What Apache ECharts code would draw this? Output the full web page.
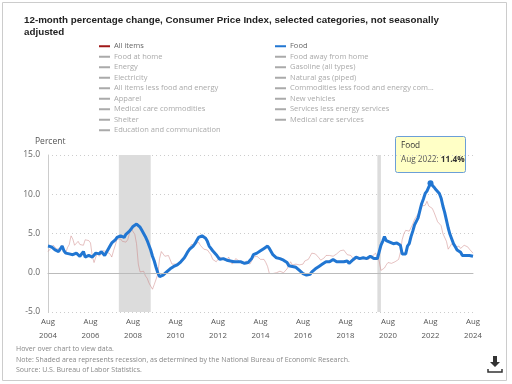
<!DOCTYPE html>
<html>
<head>
<meta charset="utf-8">
<script src="https://cdn.jsdelivr.net/npm/echarts@6/dist/echarts.min.js"></script>
<style>
html,body{margin:0;padding:0;background:#fff;}
#chart{width:512px;height:384px;}
</style>
</head>
<body>
<div id="chart"></div>
<script>
// ---- data ----
const startYear = 2004, startMonth = 8; // Aug 2004
const monthCount = 241;                  // through Aug 2024
const monthNames = ['Jan','Feb','Mar','Apr','May','Jun','Jul','Aug','Sep','Oct','Nov','Dec'];
const categories = [];
for (let i = 0; i < monthCount; i++) {
  const m = (startMonth - 1 + i) % 12;
  const y = startYear + Math.floor((startMonth - 1 + i) / 12);
  categories.push(y + '-' + String(m + 1).padStart(2, '0'));
}

const foodValues = [
  3.4, 3.5, 3.3, 3.1, 2.9,
  2.9, 2.7, 2.8, 3.4, 2.8, 2.5, 2.5, 2.4, 2.3, 2.3, 2.4, 2.5,
  2.3, 2.1, 2.0, 2.7, 2.0, 2.1, 2.2, 2.4, 2.0, 2.1, 2.5, 2.3,
  2.4, 2.7, 2.6, 2.2, 2.6, 3.0, 3.4, 3.8, 4.0, 4.2, 4.5, 4.6,
  4.7, 4.6, 4.5, 4.9, 5.1, 5.3, 5.6, 5.9, 6.1, 6.2, 6.2, 5.8,
  5.4, 5.0, 4.6, 4.1, 3.5, 2.9, 2.1, 1.5, 0.7, 0.0, -0.5, -0.5,
  -0.3, -0.1, 0.1, 0.3, 0.5, 0.7, 0.8, 0.9, 1.0, 1.2, 1.4, 1.6,
  1.9, 2.3, 2.7, 3.0, 3.2, 3.4, 3.7, 4.1, 4.5, 4.7, 4.7, 4.7,
  4.4, 4.0, 3.4, 3.1, 2.8, 2.7, 2.3, 2.0, 1.7, 1.8, 1.8, 1.8,
  1.6, 1.5, 1.5, 1.5, 1.4, 1.4, 1.4, 1.4, 1.4, 1.3, 1.2, 1.1,
  1.3, 1.4, 1.8, 2.3, 2.5, 2.5, 2.4, 2.8, 3.0, 3.1, 3.3, 3.4,
  3.1, 2.9, 2.3, 2.1, 1.9, 1.8, 1.8, 1.6, 1.6, 1.4, 1.3, 0.9,
  0.8, 0.8, 0.6, 0.7, 0.6, 0.3, 0.1, -0.1, -0.2, -0.3, -0.2, -0.2,
  0.1, 0.3, 0.5, 0.6, 0.8, 0.9, 1.1, 1.2, 1.4, 1.3, 1.4, 1.6,
  1.7, 1.5, 1.4, 1.6, 1.4, 1.5, 1.4, 1.4, 1.5, 1.2, 1.4, 1.6,
  1.6, 2.0, 2.1, 1.8, 1.8, 1.9, 1.9, 1.8, 1.8, 2.1, 2.0, 1.8,
  1.8, 1.8, 1.9, 3.5, 4.0, 4.6, 4.1, 4.1, 3.9, 3.9, 3.7, 3.9,
  3.8, 3.6, 3.5, 2.4, 2.2, 2.4, 3.4, 3.7, 4.6, 5.3, 6.1, 6.3,
  7.0, 7.9, 8.8, 9.4, 10.1, 10.4, 10.9, 11.4, 11.2, 10.9, 10.6, 10.4,
  10.1, 9.5, 8.5, 7.7, 6.7, 5.7, 4.9, 4.3, 3.7, 3.3, 2.9, 2.7,
  2.6, 2.2, 2.2, 2.2, 2.1, 2.2, 2.2, 2.1
];

const allItemsValues = [
  2.7, 2.5, 3.2, 3.5, 3.3,
  3.0, 3.0, 3.1, 3.5, 2.8, 2.5, 3.2, 3.6, 4.7, 4.3, 3.5, 3.4,
  4.0, 3.6, 3.4, 3.5, 4.2, 4.3, 4.1, 3.8, 2.1, 1.3, 2.0, 2.5,
  2.1, 2.4, 2.8, 2.6, 2.7, 2.7, 2.4, 2.0, 2.8, 3.5, 4.3, 4.1,
  4.3, 4.0, 4.0, 3.9, 4.2, 5.0, 5.6, 5.4, 4.9, 3.7, 1.1, 0.1,
  0.0, 0.2, -0.4, -0.7, -1.3, -1.4, -2.1, -1.5, -1.3, -0.2, 1.8, 2.7,
  2.6, 2.1, 2.3, 2.2, 2.0, 1.1, 1.2, 1.1, 1.1, 1.2, 1.1, 1.5,
  1.6, 2.1, 2.7, 3.2, 3.6, 3.6, 3.6, 3.8, 3.9, 3.5, 3.4, 3.0,
  2.9, 2.9, 2.7, 2.3, 1.7, 1.7, 1.4, 1.7, 2.0, 2.2, 1.8, 1.7,
  1.6, 2.0, 1.5, 1.1, 1.4, 1.8, 2.0, 1.5, 1.2, 1.0, 1.2, 1.5,
  1.6, 1.1, 1.5, 2.0, 2.1, 2.1, 2.0, 1.7, 1.7, 1.7, 1.3, 0.8,
  -0.1, 0.0, -0.1, -0.2, 0.0, 0.1, 0.2, 0.2, 0.0, 0.2, 0.5, 0.7,
  1.4, 1.0, 0.9, 1.1, 1.0, 1.0, 0.8, 1.1, 1.5, 1.6, 1.7, 2.1,
  2.5, 2.7, 2.4, 2.2, 1.9, 1.6, 1.7, 1.9, 2.2, 2.0, 2.2, 2.1,
  2.1, 2.2, 2.4, 2.5, 2.8, 2.9, 2.9, 2.7, 2.3, 2.5, 2.2, 1.9,
  1.6, 1.5, 1.9, 2.0, 1.8, 1.6, 1.8, 1.7, 1.7, 1.8, 2.1, 2.3,
  2.5, 2.3, 1.5, 0.3, 0.1, 0.6, 1.0, 1.3, 1.4, 1.2, 1.2, 1.4,
  1.4, 1.7, 2.6, 4.2, 5.0, 5.4, 5.4, 5.3, 5.4, 6.2, 6.8, 7.0,
  7.5, 7.9, 8.5, 8.3, 8.6, 9.1, 8.5, 8.3, 8.2, 7.7, 7.1, 6.5,
  6.4, 6.0, 5.0, 4.9, 4.0, 3.0, 3.2, 3.7, 3.7, 3.2, 3.1, 3.4,
  3.1, 3.2, 3.5, 3.4, 3.3, 3.0, 2.9, 2.5
];

const recessions = [['2007-12', '2009-06'], ['2020-02', '2020-04']];
const yTicks = [-5, 0, 5, 10, 15];
const legendLeftNames = ['All items', 'Food at home', 'Energy', 'Electricity',
  'All items less food and energy', 'Apparel', 'Medical care commodities',
  'Shelter', 'Education and communication'];
const legendRightNames = ['Food', 'Food away from home', 'Gasoline (all types)',
  'Natural gas (piped)', 'Commodities less food and energy com...', 'New vehicles',
  'Services less energy services', 'Medical care services'];
const activeNames = ['All items', 'Food'];
const highlightMonth = '2022-08';

// ---- chart ----
const FONT = 'Open Sans';
const hiIdx = categories.indexOf(highlightMonth);
const hiLabel = monthNames[parseInt(highlightMonth.slice(5), 10) - 1] + ' ' + highlightMonth.slice(0, 4);

const selected = {};
legendLeftNames.concat(legendRightNames).forEach(n => { selected[n] = activeNames.indexOf(n) >= 0; });

const dummySeries = legendLeftNames.concat(legendRightNames)
  .filter(n => activeNames.indexOf(n) < 0)
  .map(n => ({ name: n, type: 'line', data: [], itemStyle: { color: '#999' }, lineStyle: { color: '#999' } }));

function legendCfg(names, left) {
  return {
    orient: 'vertical', left: left, top: 41, padding: 0,
    itemGap: 0, itemWidth: 11, itemHeight: 2, icon: 'rect',
    selectedMode: false, selected: selected,
    inactiveColor: '#aaa',
    textStyle: { fontFamily: FONT, fontSize: 7.5, color: '#666', lineHeight: 10.5, padding: [0, 0, 0, -1] },
    data: names
  };
}

const chart = echarts.init(document.getElementById('chart'), null, { renderer: 'canvas' });
chart.setOption({
  animation: false,
  backgroundColor: '#fff',
  title: {
    text: '12-month percentage change, Consumer Price Index, selected categories, not seasonally\nadjusted',
    left: 24, top: 14, padding: 0,
    textStyle: { fontFamily: 'Liberation Sans', fontSize: 9.8, fontWeight: 'bold', color: '#222', lineHeight: 12 }
  },
  legend: [legendCfg(legendLeftNames, 99), legendCfg(legendRightNames, 275)],
  grid: { left: 48, right: 39, top: 155, bottom: 72, containLabel: false },
  xAxis: {
    type: 'category', data: categories, boundaryGap: false,
    axisLine: { show: true, lineStyle: { color: '#bbb' } },
    axisTick: { show: false },
    splitLine: { show: false },
    axisLabel: {
      interval: (idx) => idx % 24 === 0,
      formatter: (v) => monthNames[parseInt(v.slice(5), 10) - 1] + '\n' + v.slice(0, 4),
      fontFamily: FONT, fontSize: 7.8, color: '#555', lineHeight: 14, margin: 3
    }
  },
  yAxis: {
    type: 'value', min: yTicks[0], max: yTicks[yTicks.length - 1], interval: 5,
    axisLine: { show: true, lineStyle: { color: '#ccc' } },
    axisTick: { show: false },
    splitLine: { show: true, lineStyle: { color: '#ccc', type: [1, 3] } },
    axisLabel: { formatter: (v) => v.toFixed(1), fontFamily: FONT, fontSize: 8.5, color: '#666', margin: 8 }
  },
  series: [
    {
      name: 'All items', type: 'line', data: allItemsValues, showSymbol: false, z: 3,
      itemStyle: { color: '#a01818' },
      lineStyle: { color: 'rgba(200,120,120,0.45)', width: 1 },
      markArea: {
        silent: true,
        itemStyle: { color: '#dcdcdc' },
        data: recessions.map(r => [{ xAxis: r[0] }, { xAxis: r[1] }])
      },
      markLine: {
        silent: true, symbol: 'none', label: { show: false },
        lineStyle: { color: '#bbb', type: 'solid', width: 1 },
        data: [{ yAxis: 0 }]
      }
    },
    {
      name: 'Food', type: 'line', data: foodValues, showSymbol: false, z: 4,
      itemStyle: { color: '#2176d2' },
      lineStyle: { color: '#2176d2', width: 3 },
      markPoint: {
        silent: true, symbol: 'circle', symbolSize: 6,
        itemStyle: { color: '#2176d2' }, label: { show: false },
        data: [{ coord: [highlightMonth, foodValues[hiIdx]] }]
      }
    }
  ].concat(dummySeries),
  graphic: [
    { type: 'rect', shape: { x: 2.5, y: 2.5, width: 504, height: 378 }, style: { fill: 'none', stroke: '#ccc', lineWidth: 1 }, silent: true },
    { type: 'text', left: 35, top: 137, style: { text: 'Percent', fontFamily: FONT, fontSize: 8.5, fill: '#555' } },
    { type: 'text', left: 16, top: 345, style: { text: 'Hover over chart to view data.', fontFamily: FONT, fontSize: 7, fill: '#888' } },
    { type: 'text', left: 16, top: 356, style: { text: 'Note: Shaded area represents recession, as determined by the National Bureau of Economic Research.', fontFamily: FONT, fontSize: 7, fill: '#888' } },
    { type: 'text', left: 16, top: 366, style: { text: 'Source: U.S. Bureau of Labor Statistics.', fontFamily: FONT, fontSize: 7, fill: '#888' } },
    // download icon
    { type: 'polygon', shape: { points: [[493, 356], [497, 356], [497, 362], [500, 362], [495, 367], [490, 362], [493, 362]] }, style: { fill: '#333' } },
    { type: 'polyline', shape: { points: [[488, 369], [488, 372], [502, 372], [502, 369]] }, style: { stroke: '#333', lineWidth: 1.5, fill: 'none' } },
    // static tooltip
    {
      type: 'group', left: 395, top: 136,
      children: [
        { type: 'rect', shape: { x: 0.5, y: 0.5, width: 70, height: 36, r: 2 }, style: { fill: '#ffffc6', stroke: '#6b9fd8', lineWidth: 1 } },
        { type: 'text', x: 6, y: 6, style: { text: 'Food', fontFamily: FONT, fontSize: 8.2, fill: '#333' } },
        {
          type: 'text', x: 6, y: 20,
          style: {
            text: '{a|' + hiLabel + ': }{b|' + foodValues[hiIdx].toFixed(1) + '%}',
            rich: {
              a: { fontFamily: FONT, fontSize: 8.2, fill: '#555', color: '#555' },
              b: { fontFamily: FONT, fontSize: 8.2, fontWeight: 'bold', fill: '#333', color: '#333' }
            }
          }
        }
      ]
    }
  ]
});
</script>
</body>
</html>
